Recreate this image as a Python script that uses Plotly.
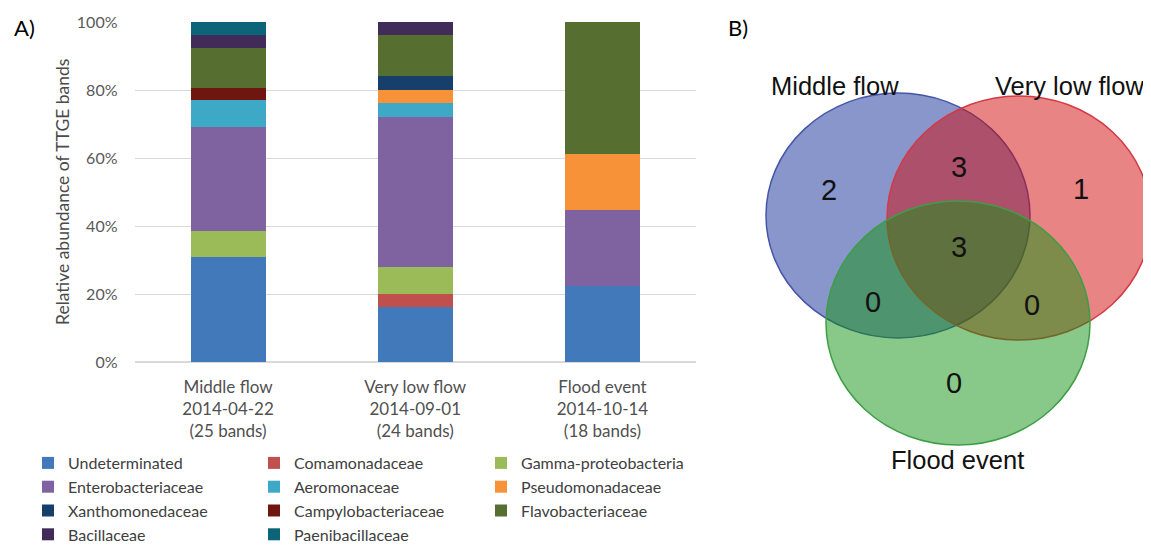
import plotly.graph_objects as go

# ---- panel A data: relative abundance of TTGE bands per sample ----
samples = ["Middle flow<br>2014-04-22<br>(25 bands)",
           "Very low flow<br>2014-09-01<br>(24 bands)",
           "Flood event<br>2014-10-14<br>(18 bands)"]

families = ["Undeterminated", "Comamonadaceae", "Gamma-proteobacteria",
            "Enterobacteriaceae", "Aeromonaceae", "Pseudomonadaceae",
            "Xanthomonedaceae", "Campylobacteriaceae", "Flavobacteriaceae",
            "Bacillaceae", "Paenibacillaceae"]

undeterminated = [0.308, 0.161, 0.223]
comamonadaceae = [0.0, 0.039, 0.0]
gamma_proteobacteria = [0.076, 0.080, 0.0]
enterobacteriaceae = [0.308, 0.440, 0.223]
aeromonaceae = [0.078, 0.042, 0.0]
pseudomonadaceae = [0.0, 0.038, 0.167]
xanthomonedaceae = [0.0, 0.040, 0.0]
campylobacteriaceae = [0.036, 0.0, 0.0]
flavobacteriaceae = [0.118, 0.121, 0.387]
bacillaceae = [0.038, 0.039, 0.0]
paenibacillaceae = [0.038, 0.0, 0.0]

# ---- panel B data: Venn counts ----
venn_sets = ["Middle flow", "Very low flow", "Flood event"]
venn_regions = ["M", "MV", "V", "MVF", "MF", "VF", "F"]
venn_counts = [2, 3, 1, 3, 0, 0, 0]

values = [undeterminated, comamonadaceae, gamma_proteobacteria,
          enterobacteriaceae, aeromonaceae, pseudomonadaceae,
          xanthomonedaceae, campylobacteriaceae, flavobacteriaceae,
          bacillaceae, paenibacillaceae]

colors = ["#4279BA", "#C0504D", "#9BBB59", "#7F62A0", "#3DA9C6", "#F79238",
          "#173F6C", "#701611", "#566F30", "#412B58", "#0C6478"]

# which legend column each family goes in (3 columns, filled row by row)
legend_of = ["legend", "legend2", "legend3"] * 4

# page has an 8px body margin, so the figure is a bit smaller than the window
WIN_W, WIN_H, OFF = 1151, 545, 8
W, H = WIN_W - OFF, WIN_H - OFF


def px(x):
    return (x - OFF) / W


def py(y):
    return 1 - (y - OFF) / H


font_a = "Lato, 'Open Sans', sans-serif"
font_b = "'Liberation Sans', Arial, sans-serif"

fig = go.Figure()

for i, fam in enumerate(families):
    fig.add_trace(go.Bar(
        x=samples, y=values[i], name=fam,
        marker=dict(color=colors[i], line=dict(width=0)),
        legend=legend_of[i],
        xaxis="x", yaxis="y",
    ))

# Venn geometry (window pixel units on the hidden x2/y2 axes)
venn_circles = {
    "Middle flow": dict(cx=898, cy=215.5, rx=132, ry=122.5,
                        fill="rgba(17,45,153,0.5)", line="#4456A8"),
    "Very low flow": dict(cx=1019, cy=218, rx=132, ry=122,
                          fill="rgba(209,10,10,0.5)", line="#D23A45"),
    "Flood event": dict(cx=958, cy=323, rx=132, ry=122,
                        fill="rgba(17,145,17,0.5)", line="#3E9E45"),
}
venn_label_pos = {"Middle flow": (835, 86), "Very low flow": (1069, 86),
                  "Flood event": (957, 460)}
venn_region_pos = {"M": (829, 190), "MV": (959, 167), "V": (1081, 189),
                   "MVF": (959, 247), "MF": (873, 302), "VF": (1032, 305),
                   "F": (954, 383)}

shapes = []
for name in venn_sets:
    c = venn_circles[name]
    shapes.append(dict(
        type="circle", xref="x2", yref="y2",
        x0=c["cx"] - c["rx"], x1=c["cx"] + c["rx"],
        y0=c["cy"] - c["ry"], y1=c["cy"] + c["ry"],
        fillcolor=c["fill"], line=dict(color=c["line"], width=1.5),
        layer="above",
    ))

annotations = []
for name in venn_sets:
    x, y = venn_label_pos[name]
    annotations.append(dict(x=x, y=y, xref="x2", yref="y2", text=name,
                            showarrow=False, yanchor="middle",
                            font=dict(family=font_b, size=25.5, color="#111111")))
for reg, cnt in zip(venn_regions, venn_counts):
    x, y = venn_region_pos[reg]
    annotations.append(dict(x=x, y=y, xref="x2", yref="y2", text=str(cnt),
                            showarrow=False, yanchor="middle",
                            font=dict(family=font_b, size=29, color="#111111")))

# panel letters and y title
annotations += [
    dict(x=px(12), y=py(28), xref="paper", yref="paper", text="A)",
         xanchor="left", yanchor="middle", showarrow=False,
         font=dict(family=font_a, size=22, color="black")),
    dict(x=px(726), y=py(28), xref="paper", yref="paper", text="B)",
         xanchor="left", yanchor="middle", showarrow=False,
         font=dict(family=font_a, size=22, color="black")),
    dict(x=px(62), y=py(192), xref="paper", yref="paper",
         text="Relative abundance of TTGE bands", textangle=-90,
         xanchor="center", yanchor="middle",
         showarrow=False, font=dict(family=font_a, size=17.5, color="#4a4a4a")),
]

leg_common = dict(orientation="v", yanchor="top", xanchor="left",
                  traceorder="normal",
                  y=py(446), font=dict(family=font_a, size=16, color="#404040"),
                  bgcolor="rgba(0,0,0,0)", tracegroupgap=0, itemwidth=30)

fig.update_layout(
    width=W, height=H,
    margin=dict(l=0, r=0, t=0, b=0, autoexpand=False),
    paper_bgcolor="white", plot_bgcolor="white",
    barmode="stack", bargap=0.6,
    showlegend=True,
    legend=dict(x=px(28), **leg_common),
    legend2=dict(x=px(254), **leg_common),
    legend3=dict(x=px(481), **leg_common),
    xaxis=dict(domain=[px(134.5), px(696)], showgrid=False, showline=False,
               ticks="", ticklabelstandoff=13,
               tickfont=dict(family=font_a, size=17, color="#505050")),
    yaxis=dict(domain=[py(362), py(22)], range=[0, 1],
               tickvals=[0, 0.2, 0.4, 0.6, 0.8, 1.0], tickformat=".0%",
               showgrid=True, gridcolor="#D9D9D9", gridwidth=1,
               zeroline=True, zerolinecolor="#D9D9D9", showline=False,
               ticks="", ticklabelstandoff=16,
               tickfont=dict(family=font_a, size=16, color="#595959")),
    xaxis2=dict(domain=[px(720), 1], range=[720, WIN_W], visible=False,
                anchor="y2", fixedrange=True),
    yaxis2=dict(domain=[0, 1], range=[WIN_H, OFF], visible=False,
                anchor="x2", fixedrange=True),
    shapes=shapes,
    annotations=annotations,
)

fig.write_html("out.html")
